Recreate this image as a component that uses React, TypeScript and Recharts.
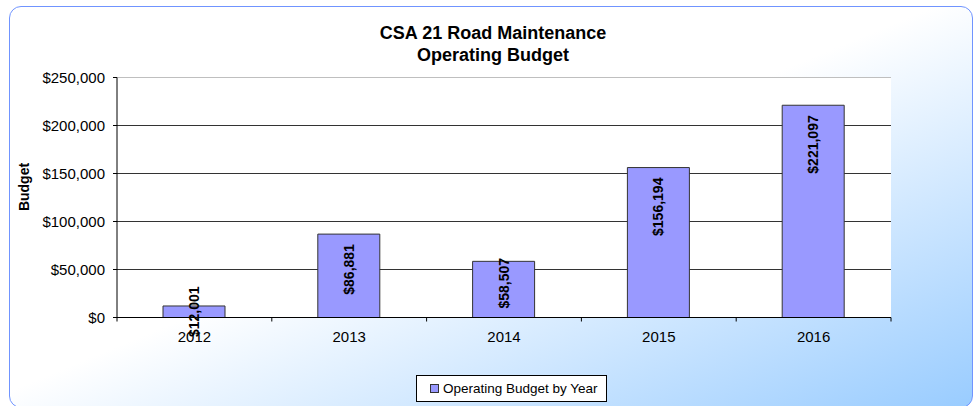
import React from "react";
import {
  BarChart,
  Bar,
  XAxis,
  YAxis,
  CartesianGrid,
  ReferenceLine,
  LabelList,
  Legend,
} from "recharts";

const years = ["2012", "2013", "2014", "2015", "2016"];
const budgets = [12001, 86881, 58507, 156194, 221097];
const yTicks = [0, 50000, 100000, 150000, 200000, 250000];
const seriesName = "Operating Budget by Year";

const data = years.map((year, i) => ({ year, budget: budgets[i] }));

const FONT = '"Liberation Sans", Arial, Helvetica, sans-serif';
const BAR_FILL = "#9999FF";
const BAND = 774 / years.length; // category width, used for the between-tick marks

const money = (v: number) => "$" + v.toLocaleString("en-US");

const YearTick = ({ x, y, payload, index }: any) => {
  const half = BAND / 2;
  return (
    <g>
      <line x1={x - half} y1={y} x2={x - half} y2={y + 4} stroke="#000" />
      {index === years.length - 1 && (
        <line x1={x + half} y1={y} x2={x + half} y2={y + 4} stroke="#000" />
      )}
      <text
        x={x}
        y={y + 24}
        textAnchor="middle"
        fontSize={15}
        fontFamily={FONT}
        fill="#000"
      >
        {payload.value}
      </text>
    </g>
  );
};

// Excel-like "inside end": hang from the top, slide up from the bottom when
// it does not fit, centre it when the bar is tiny
const BarValue = ({ x, y, width, height, value }: any) => {
  const cx = x + width / 2;
  const label = money(value);
  const len = label.length * 7.2;
  let ty = y + 10;
  let anchor = "end";
  if (height < len + 20) {
    if (height >= len * 0.8) {
      ty = y + height - 9;
      anchor = "start";
    } else {
      ty = y + height / 2;
      anchor = "middle";
    }
  }
  return (
    <text
      x={cx}
      y={ty}
      transform={`rotate(-90 ${cx} ${ty})`}
      textAnchor={anchor}
      dominantBaseline="central"
      fontSize={14}
      fontWeight="bold"
      fontFamily={FONT}
      fill="#000"
    >
      {label}
    </text>
  );
};

const LegendBox = () => (
  <div
    style={{
      boxSizing: "border-box",
      width: 191,
      height: 27,
      border: "1px solid #000",
      background: "#fff",
      display: "flex",
      alignItems: "center",
      paddingLeft: 13,
      fontFamily: FONT,
      fontSize: 13.5,
      color: "#000",
    }}
  >
    <span
      style={{
        display: "inline-block",
        width: 7,
        height: 7,
        background: BAR_FILL,
        border: "1px solid #333",
        marginRight: 4,
      }}
    />
    {seriesName}
  </div>
);

export default function App() {
  return (
    <div
      style={{
        position: "fixed",
        left: 0,
        top: 0,
        width: 973,
        height: 406,
        overflow: "hidden",
        background: "#fff",
      }}
    >
      {/* rounded frame with the corner gradient */}
      <div
        style={{
          position: "absolute",
          left: 9,
          top: 6,
          width: 964,
          height: 402,
          boxSizing: "border-box",
          border: "1px solid #7094FF",
          borderRadius: 12,
          background:
            "linear-gradient(to bottom right, #ffffff 0%, #ffffff 48%, #99CCFF 100%)",
        }}
      />
      <div
        style={{
          position: "absolute",
          left: 0,
          top: 22,
          width: 986,
          textAlign: "center",
          fontFamily: FONT,
          fontWeight: "bold",
          fontSize: 18,
          lineHeight: "22px",
          color: "#000",
        }}
      >
        CSA 21 Road Maintenance
        <br />
        Operating Budget
      </div>
      <div style={{ position: "absolute", left: 0, top: 0 }}>
        <BarChart
          width={973}
          height={406}
          data={data}
          margin={{ top: 77.5, right: 82, bottom: 0, left: 0 }}
        >
          <CartesianGrid
            vertical={false}
            stroke="#333"
            fill="#fff"
            fillOpacity={1}
          />
          <XAxis
            dataKey="year"
            height={88.5}
            axisLine={{ stroke: "#000" }}
            tickLine={false}
            tickSize={0}
            tickMargin={0}
            tick={<YearTick />}
            interval={0}
          />
          <YAxis
            width={117}
            domain={[0, 250000]}
            ticks={yTicks}
            interval={0}
            tickFormatter={money}
            tickSize={4}
            tickMargin={8}
            axisLine={{ stroke: "#000" }}
            tickLine={{ stroke: "#000" }}
            tick={{ fontSize: 15, fontFamily: FONT, fill: "#000" }}
            label={{
              content: () => (
                <text
                  x={29}
                  y={187}
                  transform="rotate(-90 29 187)"
                  textAnchor="middle"
                  fontSize={14}
                  fontWeight="bold"
                  fontFamily={FONT}
                  fill="#000"
                >
                  Budget
                </text>
              ),
            }}
          />
          <ReferenceLine y={250000} stroke="#BFBFBF" />
          <Bar
            dataKey="budget"
            name={seriesName}
            fill={BAR_FILL}
            stroke="#333"
            strokeWidth={1}
            barSize={62}
            isAnimationActive={false}
          >
            <LabelList dataKey="budget" content={<BarValue />} />
          </Bar>
          <Legend
            layout="horizontal"
            verticalAlign="middle"
            align="center"
            content={<LegendBox />}
            wrapperStyle={{ position: "absolute", left: 416, top: 375, width: 191 }}
          />
        </BarChart>
      </div>
    </div>
  );
}
